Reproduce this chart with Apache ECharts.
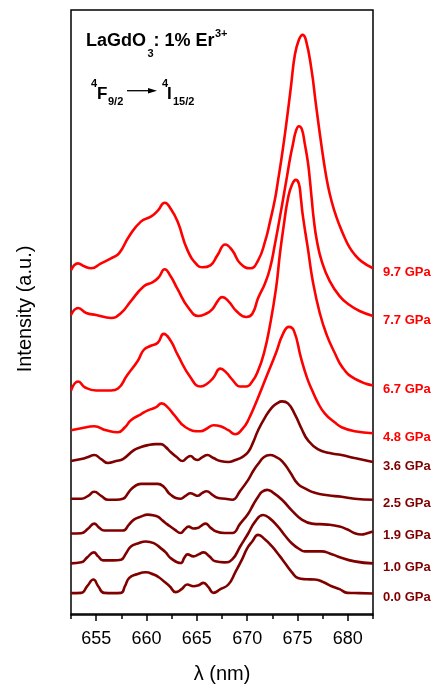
<!DOCTYPE html>
<html>
<head>
<meta charset="utf-8">
<script src="https://cdn.jsdelivr.net/npm/echarts@6/dist/echarts.min.js"></script>
<style>html,body{margin:0;padding:0;background:#fff}#c{width:441px;height:689px}</style>
</head>
<body>
<div id="c"></div>
<script>
// Tick values (nm)
const majorTicks = [655, 660, 665, 670, 675, 680];
const minorTicks = [652.5, 657.5, 662.5, 667.5, 672.5, 677.5, 682.5];
const pressureLabels = ['9.7 GPa', '7.7 GPa', '6.7 GPa', '4.8 GPa', '3.6 GPa', '2.5 GPa', '1.9 GPa', '1.0 GPa', '0.0 GPa'];

// Spectra: [wavelength (nm), intensity (a.u., stacked offset included)]
const spec97 = [[652.5,346],[653.19,353],[653.81,350],[654.50,348],[655.49,353],[656.48,358],[657.27,363],[658.26,380],[659.44,395],[660.43,400],[661.12,406],[661.81,414],[662.40,408],[663.09,395],[664.08,366],[665.06,351],[665.56,349],[666.35,351],[667.04,361],[667.83,372],[668.52,366],[669.31,353],[670.30,348],[671.09,356],[671.78,375],[672.27,395],[672.77,418],[673.06,436],[673.46,462],[673.92,496],[674.35,531],[674.74,563],[675.14,578],[675.50,583],[675.83,578],[676.39,548],[676.83,513],[677.39,471],[677.81,443],[678.20,423],[678.69,405],[679.18,391],[679.68,379],[680.17,369],[680.67,362],[681.36,355],[682.5,348]];
const spec77 = [[652.5,301],[653.22,308],[654.01,303],[655.0,301],[656.48,298],[657.47,303],[658.45,315],[659.74,330],[660.63,334],[661.22,339],[661.81,347],[662.40,340],[663.09,327],[664.18,308],[665.17,300],[665.86,302],[666.55,307],[667.14,316],[667.53,319],[668.13,315],[668.92,305],[669.90,299],[670.50,302],[671.09,318],[671.78,333],[672.27,348],[672.77,373],[673.26,400],[673.66,423],[673.95,440],[674.25,458],[674.55,473],[674.84,486],[675.14,491],[675.43,488],[675.73,473],[676.03,455],[676.22,438],[676.42,417],[676.62,397],[676.92,376],[677.41,355],[678.20,335],[679.18,320],[680.17,311],[681.16,305],[682.5,300]];
const spec67 = [[652.5,225],[653.22,234],[653.91,228],[655.0,225],[656.48,225],[657.17,227],[658.06,240],[659.14,255],[659.74,266],[660.43,270],[661.12,273],[661.71,282],[662.40,275],[663.09,261],[664.38,238],[665.36,229],[666.05,232],[666.65,238],[667.34,247],[667.93,243],[668.52,236],[669.31,229],[669.90,229],[670.50,234],[671.09,245],[671.68,263],[672.27,291],[672.87,328],[673.26,363],[673.66,393],[674.05,418],[674.45,432],[674.84,437],[675.14,433],[675.34,418],[675.53,401],[676.03,368],[676.52,335],[677.21,303],[677.90,281],[678.69,263],[679.48,248],[680.67,237],[682.5,230]];
const spec48 = [[652.5,185],[653.52,187],[654.80,189],[655.98,185],[657.17,183],[657.86,188],[658.45,195],[659.44,201],[660.13,205],[660.92,208],[661.51,212],[662.11,208],[662.70,201],[663.88,188],[665.36,184],[666.05,187],[666.65,190],[667.34,189],[668.13,185],[668.82,181],[669.51,186],[670.10,195],[671.09,218],[671.88,238],[672.87,263],[673.56,282],[674.15,289],[674.65,285],[675.34,258],[675.94,238],[676.42,226],[677.01,213],[677.70,202],[678.69,193],[679.38,188],[680.67,184],[682.5,182]];
const spec36 = [[652.5,154],[653.52,156],[654.21,158],[654.80,160],[655.49,156],[656.18,152],[656.97,154],[657.66,156],[658.75,165],[659.44,168],[660.13,170],[660.92,171],[661.41,171],[661.91,168],[662.40,163],[662.99,158],[663.59,154],[663.98,157],[664.38,159],[664.77,156],[665.07,155],[665.56,158],[666.05,160],[666.65,157],[667.34,154],[668.13,153],[668.82,155],[669.51,158],[670.10,163],[670.60,173],[671.09,185],[671.78,198],[672.47,208],[672.96,212],[673.46,214],[674.05,212],[674.74,201],[675.43,186],[676.03,175],[677.01,166],[678.20,162],[679.38,160],[680.67,157],[682.5,153]];
const spec25 = [[652.5,116],[653.52,116],[654.21,119],[654.80,123],[655.49,119],[656.18,115],[656.97,115],[657.66,116],[658.26,123],[658.75,128],[659.44,131],[660.13,131],[661.12,131],[661.71,128],[662.40,120],[663.39,116],[663.88,119],[664.38,121.5],[664.77,120],[665.07,119],[665.56,122],[665.96,123.5],[666.55,120],[667.04,117],[667.83,116],[668.52,115],[669.31,124],[670.10,135],[670.60,144],[671.09,151],[671.68,158],[672.27,160],[672.87,158],[673.46,154],[674.25,143],[675.04,131],[675.83,126],[676.72,122],[678.00,119.5],[679.38,118],[680.67,116],[682.5,115]];
const spec19 = [[652.5,81],[653.52,81.3],[654.21,86],[654.80,91],[655.29,87],[655.79,84],[656.77,84],[657.66,84],[658.26,90],[658.75,95],[659.44,98],[660.13,100],[660.63,99.5],[661.12,98],[661.61,94],[662.11,90],[662.80,85],[663.39,81.5],[663.78,85],[664.18,88],[664.67,86],[665.07,86.5],[665.46,89],[665.86,91],[666.35,87],[666.94,83],[667.73,81.5],[668.52,81.5],[669.31,91],[670.10,101],[670.60,110],[671.09,118],[671.48,123],[671.98,125],[672.47,123],[673.46,115],[674.45,104],[675.43,95],[676.42,91],[678.00,90],[679.18,88],[679.97,85],[680.76,81],[681.36,80],[681.85,81],[682.5,83]];
const spec10 = [[652.5,51],[653.52,52],[654.11,57],[654.77,62],[655.20,58],[655.69,54],[656.68,54],[657.47,54.7],[657.96,61],[658.45,68],[659.14,71],[659.93,73],[660.72,71.3],[661.41,66.3],[661.91,62],[662.40,56.3],[663.39,51.3],[663.78,57],[664.08,60],[664.67,58],[665.17,60],[665.66,62],[666.25,58],[666.84,53],[667.73,52],[668.52,55],[669.31,68],[670.10,81],[670.79,93],[671.58,99.7],[672.27,96],[673.06,88],[673.75,79],[674.45,71],[675.24,65],[675.73,63],[676.72,63],[677.41,63],[678.20,61],[678.99,58],[680.67,53],[682.5,51]];
const spec00 = [[652.5,21],[653.52,21.3],[654.11,28],[654.73,34.7],[655.20,28],[655.79,21.3],[656.68,21],[657.47,21.3],[657.86,28],[658.29,36.3],[659.04,40],[659.93,42],[660.72,39.7],[661.22,37],[661.71,33],[662.30,28],[662.90,22],[663.49,25],[664.05,29.7],[664.67,28],[665.17,29],[665.66,31.3],[666.15,27],[666.65,21.3],[667.34,25],[668.13,29.7],[668.82,42],[669.48,54.7],[670.00,66],[670.50,73],[671.09,79.7],[671.78,75],[672.47,68],[673.26,58],[673.75,51.3],[674.45,42],[675.04,36.3],[675.83,35],[676.72,34.7],[677.60,32],[678.39,28],[679.18,25],[679.97,21.3],[681.16,21],[682.5,20.7]];

const spectra = [spec97, spec77, spec67, spec48, spec36, spec25, spec19, spec10, spec00];
const RED = '#ff0000', DARK = '#800000';
const FONT = 'Liberation Sans, Arial, sans-serif';

const series = spectra.map((d, i) => {
  const col = i < 4 ? RED : DARK;
  return {
    type: 'line', name: pressureLabels[i], data: d, xAxisIndex: 0,
    showSymbol: false, smooth: 0.5, clip: true,
    lineStyle: { color: col, width: 2.6 },
    endLabel: { show: true, formatter: '{a}', color: col, fontWeight: 'bold',
      fontSize: 13, fontFamily: FONT, distance: 10, offset: [0, 4] }
  };
});

function txt(x, y, s, size, extra) {
  return Object.assign({ type: 'text', x: x, y: y, style: { text: s,
    font: 'bold ' + size + 'px ' + FONT, fill: '#000', verticalAlign: 'middle', align: 'left' } }, extra || {});
}

const chart = echarts.init(document.getElementById('c'), null, { renderer: 'canvas' });
chart.setOption({
  animation: false,
  backgroundColor: '#fff',
  grid: { left: 71, right: 68, top: 10, bottom: 70, show: true, borderColor: '#000', borderWidth: 1.5, containLabel: false },
  xAxis: [{
    type: 'value', min: 652.5, max: 682.5, position: 'bottom',
    name: 'λ (nm)', nameLocation: 'middle', nameGap: 49,
    nameTextStyle: { fontSize: 20, fontFamily: FONT, color: '#000' },
    axisLine: { show: true, lineStyle: { color: '#000', width: 1.5 } },
    axisTick: { show: true, length: 7, lineStyle: { color: '#000', width: 1.5 }, customValues: majorTicks },
    axisLabel: { show: true, fontSize: 18, fontFamily: FONT, color: '#000', margin: 15, customValues: majorTicks },
    splitLine: { show: false }
  }, {
    type: 'value', min: 652.5, max: 682.5, position: 'bottom', offset: 0,
    axisLine: { show: false },
    axisTick: { show: true, length: 4, lineStyle: { color: '#000', width: 1.5 }, customValues: minorTicks },
    axisLabel: { show: false },
    splitLine: { show: false }
  }],
  yAxis: {
    type: 'value', min: -1, max: 608,
    axisLine: { show: false }, axisTick: { show: false }, axisLabel: { show: false }, splitLine: { show: false }
  },
  series: series,
  graphic: [
    { type: 'text', x: 25, y: 309, rotation: Math.PI / 2,
      style: { text: 'Intensity (a.u.)', font: '20px ' + FONT, fill: '#000', align: 'center', verticalAlign: 'middle' } },
    txt(86, 41, 'LaGdO', 18),
    txt(147.5, 54, '3', 11),
    txt(153.5, 41, ': 1% Er', 18),
    txt(215, 33.5, '3+', 11),
    txt(91, 84, '4', 11),
    txt(97, 94, 'F', 17),
    txt(108, 102, '9/2', 11),
    { type: 'line', shape: { x1: 127, y1: 90.7, x2: 150, y2: 90.7 }, style: { stroke: '#000', lineWidth: 1.3 } },
    { type: 'polygon', shape: { points: [[148, 88], [157, 90.7], [148, 93.4]] }, style: { fill: '#000' } },
    txt(162, 84, '4', 11),
    txt(167, 94, 'I', 17),
    txt(173, 102, '15/2', 11)
  ]
});
</script>
</body>
</html>
